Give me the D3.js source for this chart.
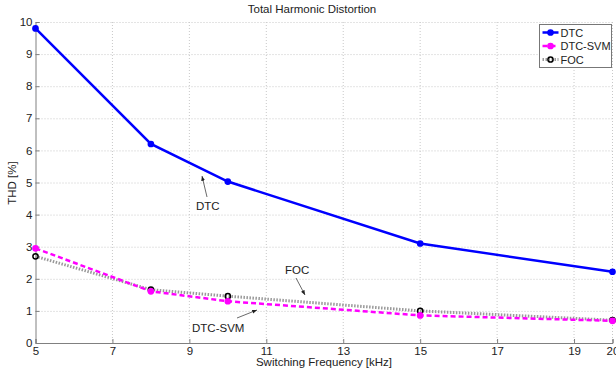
<!DOCTYPE html>
<html>
<head>
<meta charset="utf-8">
<script src="https://cdn.jsdelivr.net/npm/d3@7"></script>
<style>
  body { margin: 0; background: #fff; }
  text { font-family: "Liberation Sans", Arial, sans-serif; fill: #222; }
</style>
</head>
<body>
<svg id="chart" width="616" height="373"></svg>
<script>
// data
var freqs = [5, 8, 10, 15, 20];
var dtcValues = [9.8, 6.2, 5.03, 3.1, 2.22];
var svmValues = [2.95, 1.61, 1.3, 0.86, 0.69];
var focValues = [2.7, 1.66, 1.46, 1.0, 0.71];
var xTicks = [5, 7, 9, 11, 13, 15, 17, 19, 20];
var yTicks = [0, 1, 2, 3, 4, 5, 6, 7, 8, 9, 10];

var svg = d3.select('#chart');
var plotLeft = 35.5, plotRight = 612.5, plotTop = 22, plotBottom = 343;

var x = d3.scaleLinear().domain([5, 20]).range([plotLeft, plotRight]);
var y = d3.scaleLinear().domain([0, 10]).range([plotBottom, plotTop]);

// grid lines
svg.append('g').selectAll('line')
  .data(xTicks.slice(1))
  .enter().append('line')
  .attr('x1', function (d) { return x(d); }).attr('x2', function (d) { return x(d); })
  .attr('y1', plotTop).attr('y2', plotBottom)
  .attr('stroke', '#c8c8c8').attr('stroke-dasharray', '1,2');
svg.append('g').selectAll('line')
  .data(yTicks.slice(1))
  .enter().append('line')
  .attr('x1', plotLeft).attr('x2', plotRight)
  .attr('y1', function (d) { return y(d) + 0.5; }).attr('y2', function (d) { return y(d) + 0.5; })
  .attr('stroke', '#c8c8c8').attr('stroke-dasharray', '1,2');

// axes
var xAxis = d3.axisBottom(x).tickValues(xTicks).tickSize(-4).tickPadding(4);
var yAxis = d3.axisLeft(y).tickValues(yTicks).tickSize(-4).tickPadding(3);

var gx = svg.append('g').attr('transform', 'translate(0,' + plotBottom + ')').call(xAxis);
var gy = svg.append('g').attr('transform', 'translate(' + plotLeft + ',0)').call(yAxis);
[gx, gy].forEach(function (g) {
  g.select('.domain').attr('stroke', '#808080');
  g.selectAll('.tick line').attr('stroke', '#808080');
  g.selectAll('.tick text').style('font-size', '11.5px').attr('fill', '#222')
    .style('font-family', '"Liberation Sans", Arial, sans-serif');
});

// lines
var line = d3.line()
  .x(function (d, i) { return x(freqs[i]); })
  .y(function (d) { return y(d); });

var series = [
  { name: 'DTC', values: dtcValues, color: '#0000ff', width: 2.5, dash: null, marker: '#0000ff', markerStroke: '#0000ff' },
  { name: 'DTC-SVM', values: svmValues, color: '#ff00ff', width: 2.5, dash: '5,3', marker: '#ff00ff', markerStroke: '#ff00ff' },
  { name: 'FOC', values: focValues, color: '#999999', width: 3, dash: '1.5,1.5', marker: 'none', markerStroke: '#000' }
];

series.slice().reverse().forEach(function (s) {
  svg.append('path')
    .datum(s.values)
    .attr('d', line)
    .attr('fill', 'none')
    .attr('stroke', s.color)
    .attr('stroke-width', s.width)
    .attr('stroke-dasharray', s.dash);
  svg.append('g').selectAll('circle')
    .data(s.values)
    .enter().append('circle')
    .attr('cx', function (d, i) { return x(freqs[i]); })
    .attr('cy', function (d) { return y(d); })
    .attr('r', 2.6)
    .attr('fill', s.marker)
    .attr('stroke', s.markerStroke)
    .attr('stroke-width', 1.5);
});

// title and labels
svg.append('text').attr('x', 312).attr('y', 13).attr('text-anchor', 'middle')
  .style('font-size', '11.5px').text('Total Harmonic Distortion');
svg.append('text').attr('x', 324).attr('y', 366).attr('text-anchor', 'middle')
  .style('font-size', '11.5px').text('Switching Frequency [kHz]');
svg.append('text').attr('transform', 'translate(16,183) rotate(-90)').attr('text-anchor', 'middle')
  .style('font-size', '11.5px').text('THD [%]');

// annotations
svg.append('defs').append('marker')
  .attr('id', 'arrow').attr('viewBox', '0 0 10 10').attr('refX', 10).attr('refY', 5)
  .attr('markerWidth', 6).attr('markerHeight', 6).attr('orient', 'auto')
  .append('path').attr('d', 'M0,1 L10,5 L0,9 Z').attr('fill', '#222');

var notes = [
  { text: 'DTC', tx: 196, ty: 210, x1: 207, y1: 197, x2: 202, y2: 176 },
  { text: 'DTC-SVM', tx: 192, ty: 332, x1: 237, y1: 318, x2: 257, y2: 310 },
  { text: 'FOC', tx: 285, ty: 274, x1: 296, y1: 278, x2: 305, y2: 295 }
];
notes.forEach(function (n) {
  svg.append('line').attr('x1', n.x1).attr('y1', n.y1).attr('x2', n.x2).attr('y2', n.y2)
    .attr('stroke', '#444').attr('stroke-width', 0.8).attr('marker-end', 'url(#arrow)');
  svg.append('text').attr('x', n.tx).attr('y', n.ty).style('font-size', '11.5px').text(n.text);
});

// legend
var lg = svg.append('g').attr('transform', 'translate(539.5,24.5)');
lg.append('rect').attr('width', 72).attr('height', 43)
  .attr('fill', '#fff').attr('stroke', '#777').attr('stroke-width', 1);
series.forEach(function (s, i) {
  var ly = 8 + i * 13.5;
  lg.append('line').attr('x1', 3).attr('x2', 19).attr('y1', ly).attr('y2', ly)
    .attr('stroke', s.color).attr('stroke-width', s.width).attr('stroke-dasharray', s.dash);
  lg.append('circle').attr('cx', 11).attr('cy', ly).attr('r', 2.6)
    .attr('fill', s.marker).attr('stroke', s.markerStroke).attr('stroke-width', 1.5);
  lg.append('text').attr('x', 21).attr('y', ly + 4).style('font-size', '11px').text(s.name);
});
</script>
</body>
</html>
